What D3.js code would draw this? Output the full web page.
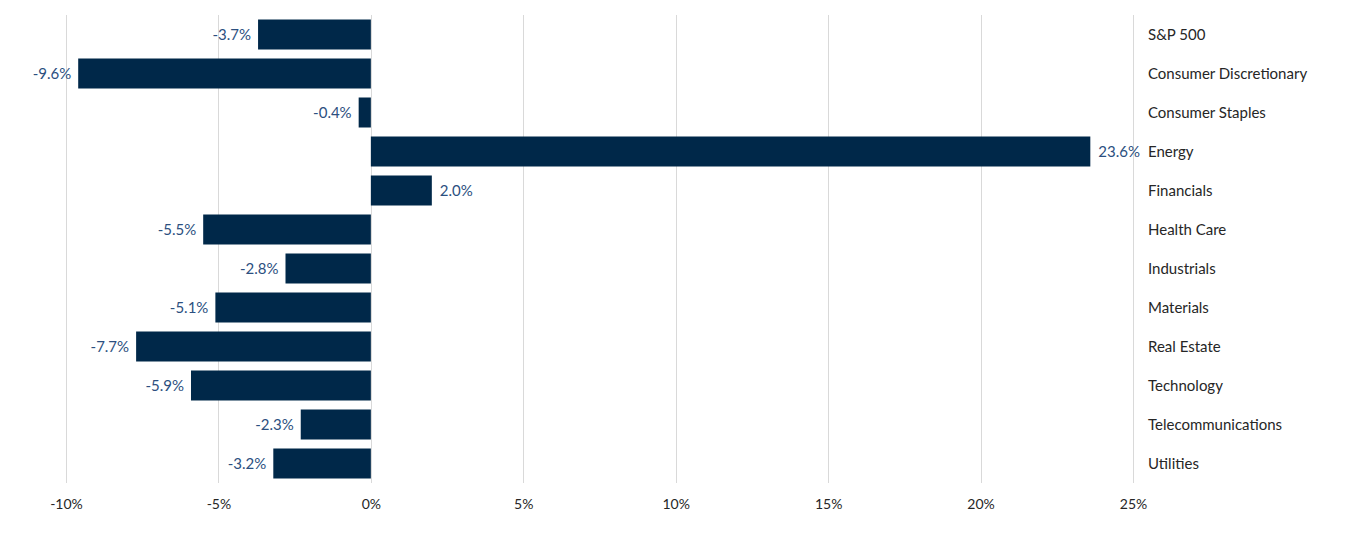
<!DOCTYPE html>
<html>
<head>
<meta charset="utf-8">
<script src="https://cdn.jsdelivr.net/npm/d3@7"></script>
<style>
  body { margin: 0; background: #fff; }
  svg text { font-family: "Lato", "Open Sans", sans-serif; }
</style>
</head>
<body>
<svg id="chart" width="1366" height="534"></svg>
<script>
// sector returns
const categories = ["S&P 500", "Consumer Discretionary", "Consumer Staples", "Energy", "Financials",
  "Health Care", "Industrials", "Materials", "Real Estate", "Technology", "Telecommunications", "Utilities"];
const values = [-3.7, -9.6, -0.4, 23.6, 2.0, -5.5, -2.8, -5.1, -7.7, -5.9, -2.3, -3.2];
const tickValues = [-10, -5, 0, 5, 10, 15, 20, 25];

const svg = d3.select("#chart");

const x = d3.scaleLinear().domain([-10, 25]).range([66, 1133]);
const y = d3.scaleBand().domain(categories).range([15, 483])
  .paddingInner(9 / 39).paddingOuter(4.5 / 39);

// gridlines
svg.append("g")
  .selectAll("line")
  .data(tickValues)
  .join("line")
  .attr("x1", d => Math.round(x(d)) + 0.5)
  .attr("x2", d => Math.round(x(d)) + 0.5)
  .attr("y1", 15)
  .attr("y2", 483)
  .attr("stroke", "#d9d9d9")
  .attr("stroke-width", 1);

// bars
svg.append("g")
  .selectAll("rect")
  .data(values)
  .join("rect")
  .attr("x", d => x(Math.min(0, d)))
  .attr("width", d => Math.abs(x(d) - x(0)))
  .attr("y", (d, i) => y(categories[i]))
  .attr("height", y.bandwidth())
  .attr("fill", "#002849");

// value labels
svg.append("g")
  .selectAll("text")
  .data(values)
  .join("text")
  .attr("x", d => d < 0 ? x(d) - 7 : x(d) + 8)
  .attr("y", (d, i) => y(categories[i]) + y.bandwidth() / 2)
  .attr("dy", "0.35em")
  .attr("text-anchor", d => d < 0 ? "end" : "start")
  .attr("font-size", 15)
  .attr("fill", "#2c4f80")
  .text(d => d.toFixed(1) + "%");

// category labels
svg.append("g")
  .selectAll("text")
  .data(categories)
  .join("text")
  .attr("x", 1148)
  .attr("y", d => y(d) + y.bandwidth() / 2)
  .attr("dy", "0.35em")
  .attr("font-size", 15)
  .attr("fill", "#262626")
  .text(d => d);

// x axis
const axis = svg.append("g")
  .attr("transform", "translate(0,483)")
  .call(d3.axisBottom(x).tickValues(tickValues).tickSize(0).tickPadding(16)
    .tickFormat(d => d + "%"));
axis.select(".domain").remove();
axis.selectAll("text")
  .attr("font-size", 14)
  .attr("fill", "#262626");
</script>
</body>
</html>
